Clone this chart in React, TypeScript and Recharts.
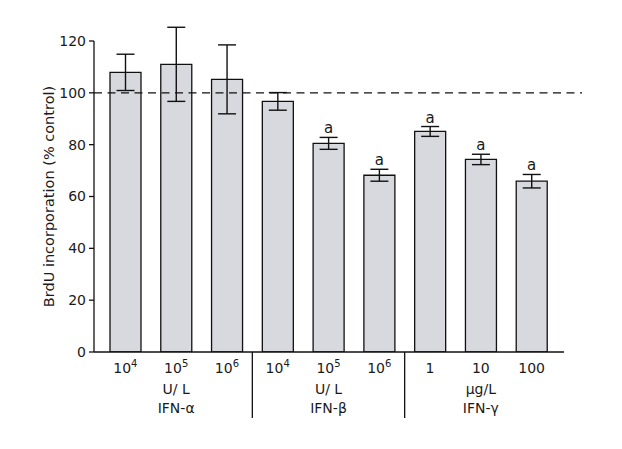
import { Bar, BarChart, ErrorBar, LabelList, ReferenceLine, XAxis, YAxis } from "recharts";

const categories = ["a4", "a5", "a6", "b4", "b5", "b6", "g1", "g10", "g100"];
const doseBase = ["10", "10", "10", "10", "10", "10", "1", "10", "100"];
const doseExp = ["4", "5", "6", "4", "5", "6", "", "", ""];
const units = ["", "U/ L", "", "", "U/ L", "", "", "μg/L", ""];
const groups = ["", "IFN-α", "", "", "IFN-β", "", "", "IFN-γ", ""];
const means = [107.9, 111, 105.2, 96.7, 80.5, 68.2, 85.1, 74.3, 65.9];
const errors = [7, 14.3, 13.3, 3.4, 2.3, 2.3, 1.9, 2, 2.6];
const marks = ["", "", "", "", "a", "a", "a", "a", "a"];
const yTicks = [0, 20, 40, 60, 80, 100, 120];

const rows = categories.map((c, i) => ({ cat: c, mean: means[i], err: errors[i], mark: marks[i] }));

const W = 622;
const H = 449;
const M = { top: 41, right: 58, bottom: 0, left: 0 };
const Y_W = 94;
const PAD = { left: 6, right: 7 };
const HALF_BAND = (W - M.right - Y_W - PAD.left - PAD.right) / categories.length / 2;
const FONT = "'DejaVu Sans', sans-serif";

function XTick(props: any) {
  const { x, y, index } = props;
  const sep = index === 2 || index === 5;
  return (
    <g fontFamily={FONT} fontSize={14} fill="#1a1a1a">
      <text x={x} y={y + 21} textAnchor="middle">
        {doseBase[index]}
        {doseExp[index] && (
          <tspan fontSize={10} dy={-6}>
            {doseExp[index]}
          </tspan>
        )}
      </text>
      {units[index] && (
        <text x={x} y={y + 42} textAnchor="middle">
          {units[index]}
        </text>
      )}
      {groups[index] && (
        <text x={x} y={y + 61} textAnchor="middle">
          {groups[index]}
        </text>
      )}
      {sep && <line x1={x + HALF_BAND} x2={x + HALF_BAND} y1={y} y2={y + 66} stroke="#111" strokeWidth={1.3} />}
    </g>
  );
}

function MarkLabel(props: any) {
  const { x, y, width, height, index, value } = props;
  if (!value) return null;
  const top = y - (errors[index] * height) / means[index];
  return (
    <text x={x + width / 2} y={top - 4} textAnchor="middle" fontFamily={FONT} fontSize={15} fill="#1a1a1a">
      {value}
    </text>
  );
}

function YLabel(props: any) {
  const { viewBox } = props;
  const cx = viewBox.x + 49;
  const cy = viewBox.y + viewBox.height / 2;
  return (
    <text
      x={cx}
      y={cy}
      transform={`rotate(-90 ${cx} ${cy})`}
      textAnchor="middle"
      dominantBaseline="central"
      fontFamily={FONT}
      fontSize={14.5}
      fill="#1a1a1a"
    >
      BrdU incorporation (% control)
    </text>
  );
}

function DashLine(props: any) {
  const { x1, y1, x2, y2 } = props;
  return <line x1={x1} y1={y1} x2={x2 + 18} y2={y2} stroke="#111" strokeWidth={1.3} strokeDasharray="8 5.5" />;
}

export default function App() {
  return (
    <div style={{ position: "absolute", left: 0, top: 0, background: "#fff" }}>
      <BarChart width={W} height={H} data={rows} margin={M}>
        <XAxis
          dataKey="cat"
          height={97}
          padding={PAD}
          tickLine={false}
          tickSize={0}
          tickMargin={0}
          axisLine={{ stroke: "#111", strokeWidth: 1.3 }}
          tick={<XTick />}
          interval={0}
        />
        <YAxis
          width={Y_W}
          domain={[0, 120]}
          allowDataOverflow
          ticks={yTicks}
          tickSize={5}
          tickMargin={3}
          axisLine={{ stroke: "#111", strokeWidth: 1.3 }}
          tickLine={{ stroke: "#111", strokeWidth: 1.3 }}
          tick={{ fontFamily: FONT, fontSize: 14, fill: "#1a1a1a" }}
          label={<YLabel />}
        />
        <ReferenceLine y={100} shape={<DashLine />} />
        <Bar dataKey="mean" fill="#d8d9de" stroke="#111" strokeWidth={1.3} barSize={31} isAnimationActive={false}>
          <ErrorBar dataKey="err" direction="y" width={9} stroke="#111" strokeWidth={1.4} isAnimationActive={false} />
          <LabelList dataKey="mark" content={<MarkLabel />} />
        </Bar>
      </BarChart>
    </div>
  );
}
